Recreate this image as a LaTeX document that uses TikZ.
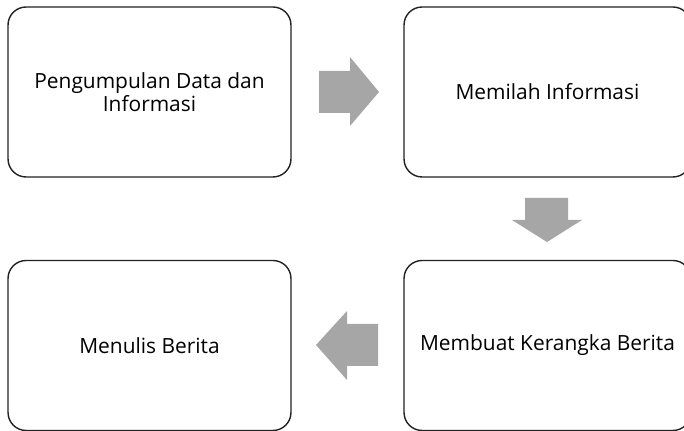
\documentclass[tikz,border=0pt]{standalone}
\usepackage{fontspec}
\setmainfont{Open Sans}
\usepackage{xcolor}

\definecolor{panah}{HTML}{A6A6A6}
\definecolor{garis}{HTML}{222222}

\begin{document}
\begin{tikzpicture}[x=0.02cm, y=-0.02cm,
    kotak/.style={rectangle, draw=garis, line width=0.8pt, rounded corners=0.36cm,
        minimum width=5.66cm, minimum height=3.4cm, align=center,
        font=\fontsize{11.9}{13.1}\selectfont, inner sep=0pt},
    blok/.style={fill=panah, draw=none}]

    % Area gambar
    \useasboundingbox (0,0) rectangle (684,431);
    \clip (0,0) rectangle (684,431);

    % Kotak langkah
    \node[kotak] (kumpul) at (149.5, 92) {Pengumpulan Data dan\\Informasi};
    \node[kotak, minimum width=5.74cm] (pilah) at (547.5, 92) {Memilah Informasi};
    \node[kotak, minimum width=5.74cm] (kerangka) at (547.5, 345.5) {Membuat Kerangka Berita};
    \node[kotak] (tulis) at (149.5, 345.5) {Menulis Berita};

    % Panah blok
    \fill[blok] (319,71) -- (350,71) -- (350,57) -- (379,92) -- (350,126) -- (350,113) -- (319,113) -- cycle;
    \fill[blok] (525,198) -- (568,198) -- (568,220) -- (582,220) -- (547,242) -- (512,220) -- (525,220) -- cycle;
    \fill[blok] (378,324) -- (347,324) -- (347,311) -- (316,345) -- (347,380) -- (347,366) -- (378,366) -- cycle;

\end{tikzpicture}
\end{document}
